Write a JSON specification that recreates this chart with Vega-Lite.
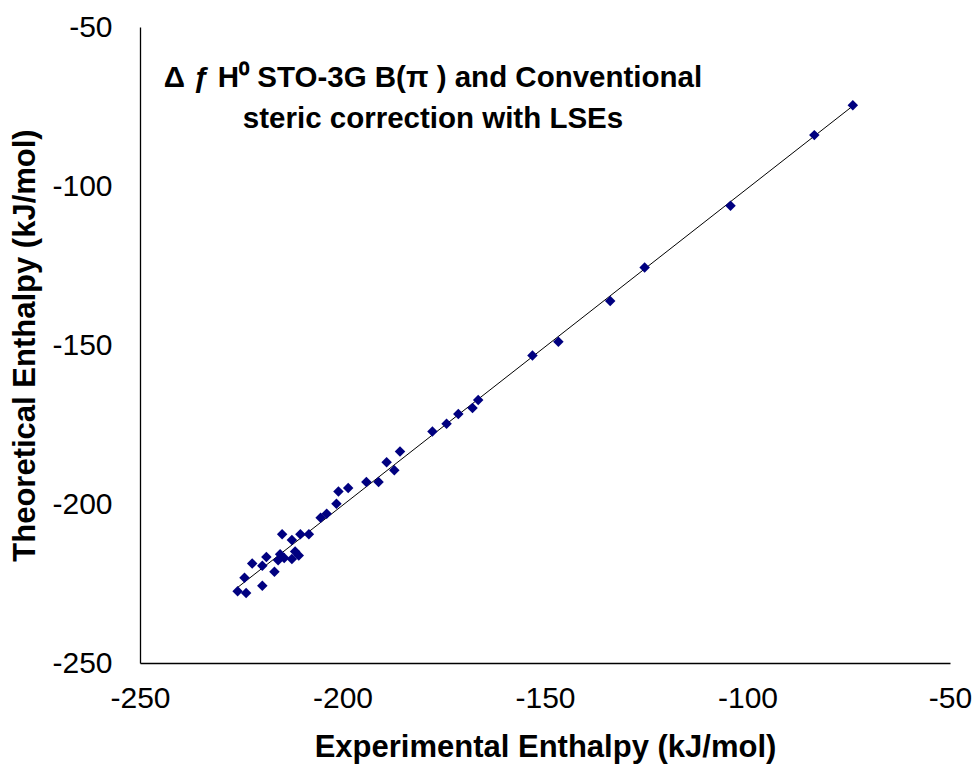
{
  "$schema": "https://vega.github.io/schema/vega-lite/v6.json",
  "width": 810,
  "height": 636,
  "autosize": {"type": "none"},
  "padding": {"left": 140, "top": 27, "right": 29, "bottom": 107},
  "background": "white",
  "config": {
    "view": {"stroke": null},
    "axis": {
      "grid": false,
      "ticks": false,
      "domainColor": "black",
      "domainWidth": 1.3,
      "labelFont": "Liberation Sans",
      "labelFontSize": 30,
      "labelColor": "black",
      "titleFont": "Liberation Sans",
      "titleFontSize": 31,
      "titleFontWeight": "bold",
      "titleColor": "black"
    }
  },
  "title": {
    "text": ["Δ ƒ H⁰ STO-3G B(π ) and Conventional", "steric correction with LSEs"],
    "anchor": "middle",
    "frame": "group",
    "orient": "top",
    "offset": 0,
    "baseline": "alphabetic",
    "dx": -112,
    "dy": 145,
    "lineHeight": 41,
    "font": "Liberation Sans",
    "fontSize": 29.5,
    "fontWeight": "bold",
    "color": "black"
  },
  "data": {
    "values": [
      {"exp": -74.0, "theo": -74.6},
      {"exp": -83.5, "theo": -84.0},
      {"exp": -104.2, "theo": -106.2},
      {"exp": -125.4, "theo": -125.6},
      {"exp": -133.9, "theo": -136.2},
      {"exp": -146.7, "theo": -149.0},
      {"exp": -153.1, "theo": -153.3},
      {"exp": -166.5, "theo": -167.3},
      {"exp": -167.9, "theo": -169.8},
      {"exp": -171.4, "theo": -171.7},
      {"exp": -174.3, "theo": -174.8},
      {"exp": -177.8, "theo": -177.2},
      {"exp": -185.8, "theo": -183.5},
      {"exp": -189.1, "theo": -186.9},
      {"exp": -187.2, "theo": -189.4},
      {"exp": -194.1, "theo": -193.1},
      {"exp": -191.1, "theo": -193.1},
      {"exp": -198.6, "theo": -195.0},
      {"exp": -201.0, "theo": -196.1},
      {"exp": -201.5, "theo": -199.9},
      {"exp": -203.9, "theo": -203.1},
      {"exp": -205.4, "theo": -204.3},
      {"exp": -208.3, "theo": -209.5},
      {"exp": -210.4, "theo": -209.5},
      {"exp": -214.9, "theo": -209.5},
      {"exp": -212.5, "theo": -211.3},
      {"exp": -215.4, "theo": -215.8},
      {"exp": -211.7, "theo": -214.9},
      {"exp": -210.8, "theo": -216.2},
      {"exp": -212.5, "theo": -217.3},
      {"exp": -214.4, "theo": -217.0},
      {"exp": -215.9, "theo": -217.7},
      {"exp": -218.8, "theo": -216.7},
      {"exp": -219.8, "theo": -219.4},
      {"exp": -222.3, "theo": -218.7},
      {"exp": -216.8, "theo": -221.3},
      {"exp": -224.2, "theo": -223.2},
      {"exp": -219.8, "theo": -225.7},
      {"exp": -225.9, "theo": -227.4},
      {"exp": -223.8, "theo": -228.0}
    ]
  },
  "layer": [
    {
      "transform": [{"regression": "theo", "on": "exp"}],
      "mark": {"type": "line", "color": "black", "strokeWidth": 1},
      "encoding": {
        "x": {"field": "exp", "type": "quantitative", "scale": {"domain": [-250, -50], "nice": false, "zero": false}},
        "y": {"field": "theo", "type": "quantitative", "scale": {"domain": [-250, -50], "nice": false, "zero": false}}
      }
    },
    {
      "mark": {"type": "point", "shape": "diamond", "filled": true, "color": "#000080", "size": 110, "opacity": 1},
      "encoding": {
        "x": {
          "field": "exp", "type": "quantitative",
          "scale": {"domain": [-250, -50], "nice": false, "zero": false},
          "axis": {"title": "Experimental Enthalpy (kJ/mol)", "values": [-250, -200, -150, -100, -50], "labelExpr": "'' + datum.value", "labelPadding": 20, "titlePadding": 19, "labelFlush": false}
        },
        "y": {
          "field": "theo", "type": "quantitative",
          "scale": {"domain": [-250, -50], "nice": false, "zero": false},
          "axis": {"title": "Theoretical Enthalpy (kJ/mol)", "values": [-250, -200, -150, -100, -50], "labelExpr": "'' + datum.value", "labelPadding": 28, "titlePadding": 10, "labelFlush": false}
        }
      }
    }
  ]
}
